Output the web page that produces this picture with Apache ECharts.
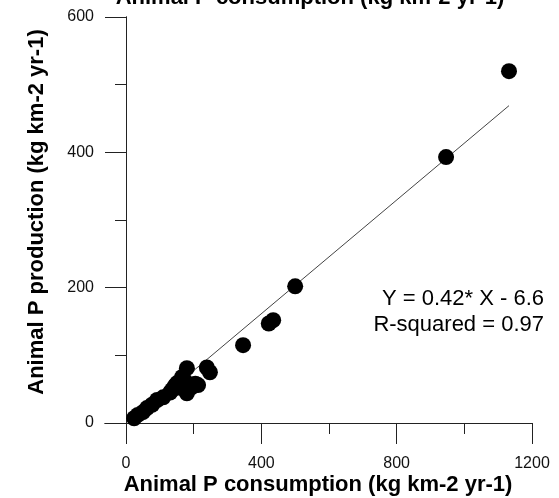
<!DOCTYPE html>
<html>
<head>
<meta charset="utf-8">
<script src="https://cdn.jsdelivr.net/npm/echarts@6/dist/echarts.min.js"></script>
<style>
html,body{margin:0;padding:0;background:#fff;}
#chart{width:559px;height:498px;}
</style>
</head>
<body>
<div id="chart"></div>
<script>
// Data
var consumption = [24, 35, 50, 62, 77, 92, 110, 130, 136, 145, 151, 160, 166, 175, 180, 180, 189, 195, 205, 213, 239, 248, 346, 422, 435, 500, 946, 1132];
var production  = [7, 12, 16, 22, 27, 34, 38, 45, 49, 55, 59, 52, 68, 62, 81, 44, 52, 53, 58, 56, 82, 75, 115, 147, 152, 202, 393, 520];
var fitX = [24, 1132];
var fitY = [3.5, 469];
var xMajorTicks = [0, 400, 800, 1200];
var xMinorTicks = [200, 600, 1000];
var yMajorTicks = [0, 200, 400, 600];
var yMinorTicks = [100, 300, 500];
var titleText = 'Animal P consumption (kg km-2 yr-1)';
var xName = 'Animal P consumption (kg km-2 yr-1)';
var yName = 'Animal P production (kg km-2 yr-1)';
var eqLines = ['Y = 0.42* X - 6.6', 'R-squared = 0.97'];

var points = consumption.map(function (x, i) { return [x, production[i]]; });
var fitLine = fitX.map(function (x, i) { return [x, fitY[i]]; });

var FONT = '"Liberation Sans", Arial, sans-serif';
var axisColor = '#222';
function plain(v) { return String(v); }
var lineStyle = {color: axisColor, width: 1};

var chart = echarts.init(document.getElementById('chart'), null, {renderer: 'canvas'});
chart.setOption({
  animation: false,
  backgroundColor: '#fff',
  title: [{
    text: titleText,
    left: 305, top: -18,
    textAlign: 'center',
    textStyle: {fontFamily: FONT, fontSize: 22, fontWeight: 'bold', color: '#000'}
  }, {
    text: xName,
    left: 313, top: 469,
    textAlign: 'center',
    textStyle: {fontFamily: FONT, fontSize: 22, fontWeight: 'bold', color: '#000'}
  }, {
    text: eqLines.join('\n'),
    left: 539, top: 281,
    textAlign: 'right',
    textStyle: {fontFamily: FONT, fontSize: 22, fontWeight: 'normal', color: '#000', lineHeight: 26, align: 'right'}
  }],
  graphic: [{
    type: 'text',
    x: 37, y: 212,
    rotation: Math.PI / 2,
    style: {
      text: yName,
      font: 'bold 22px "Liberation Sans", Arial, sans-serif',
      fill: '#000',
      align: 'center',
      verticalAlign: 'middle'
    }
  }],
  grid: {left: 105, right: 27, top: 17, bottom: 55, containLabel: false, outerBoundsMode: 'none'},
  xAxis: [{
    type: 'value', min: -62.07, max: 1200, position: 'bottom',
    axisLine: {show: true, onZero: true, onZeroAxisIndex: 0, lineStyle: lineStyle},
    axisTick: {show: true, customValues: xMajorTicks, length: 21, lineStyle: {color: axisColor}},
    axisLabel: {show: true, customValues: xMajorTicks, margin: 13, formatter: plain, fontFamily: FONT, fontSize: 16, color: '#111'},
    splitLine: {show: false}
  }, {
    type: 'value', min: -62.07, max: 1200, position: 'bottom',
    axisLine: {show: true, onZero: true, onZeroAxisIndex: 0, lineStyle: lineStyle},
    axisTick: {show: true, customValues: xMinorTicks, length: 11, lineStyle: {color: axisColor}},
    axisLabel: {show: false},
    splitLine: {show: false}
  }],
  yAxis: [{
    type: 'value', min: -29.56, max: 600, position: 'left',
    axisLine: {show: true, onZero: true, onZeroAxisIndex: 0, lineStyle: lineStyle},
    axisTick: {show: true, customValues: yMajorTicks, length: 21, lineStyle: {color: axisColor}},
    axisLabel: {show: true, customValues: yMajorTicks, margin: 11, formatter: plain, fontFamily: FONT, fontSize: 16, color: '#111'},
    splitLine: {show: false}
  }, {
    type: 'value', min: -29.56, max: 600, position: 'left',
    axisLine: {show: true, onZero: true, onZeroAxisIndex: 0, lineStyle: lineStyle},
    axisTick: {show: true, customValues: yMinorTicks, length: 11, lineStyle: {color: axisColor}},
    axisLabel: {show: false},
    splitLine: {show: false}
  }],
  series: [{
    type: 'line',
    data: fitLine,
    xAxisIndex: 0, yAxisIndex: 0,
    symbol: 'none',
    lineStyle: {color: '#444', width: 1},
    z: 1,
    silent: true
  }, {
    type: 'scatter',
    data: points,
    xAxisIndex: 0, yAxisIndex: 0,
    symbol: 'circle',
    symbolSize: 16,
    itemStyle: {color: '#000', opacity: 1},
    z: 2
  }]
});
</script>
</body>
</html>
